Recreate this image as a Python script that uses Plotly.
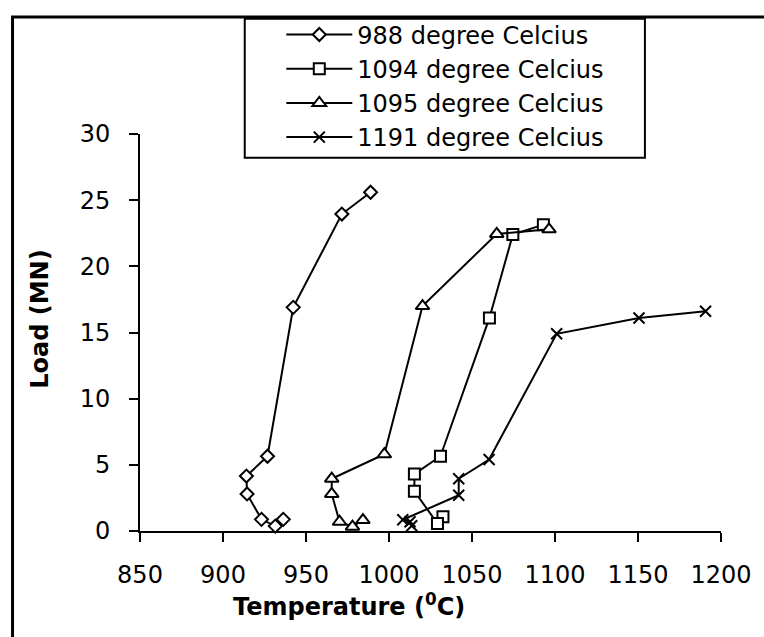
import plotly.graph_objects as go

# ---- data ----
names = ["988 degree Celcius", "1094 degree Celcius", "1095 degree Celcius", "1191 degree Celcius"]

t988 = [936.3, 931.5, 923.2, 914.5, 914.1, 926.8, 942.3, 971.6, 988.9]
l988 = [0.88, 0.37, 0.88, 2.8, 4.15, 5.65, 16.9, 23.95, 25.6]

t1094 = [1032.5, 1029.2, 1015.3, 1015.3, 1031.0, 1060.5, 1074.6, 1093.0]
l1094 = [1.07, 0.57, 3.0, 4.3, 5.65, 16.1, 22.4, 23.15]

t1095 = [984.3, 978.0, 970.2, 965.5, 965.5, 997.2, 1020.2, 1064.9, 1096.4]
l1095 = [0.83, 0.33, 0.7, 2.8, 3.95, 5.8, 17.0, 22.45, 22.8]

t1191 = [1013.7, 1012.7, 1008.3, 1042.0, 1042.0, 1060.3, 1101.0, 1150.6, 1190.7]
l1191 = [0.4, 0.7, 0.85, 2.7, 3.95, 5.4, 14.9, 16.1, 16.6]

x_ticks = [850, 900, 950, 1000, 1050, 1100, 1150, 1200]
y_ticks = [0, 5, 10, 15, 20, 25, 30]

# ---- layout geometry (pixels) ----
W, H = 764, 637
L, R, T, B = 140, 36, 131, 106
PW, PH = W - L - R, H - T - B

def px(xp):
    return (xp - L) / PW

def py(yp):
    return (H - B - yp) / PH

FONT = "DejaVu Sans, Arial, sans-serif"

fig = go.Figure()
series = [
    (t988, l988, "diamond", 10),
    (t1094, l1094, "square", 11),
    (t1095, l1095, "triangle-up", 12),
    (t1191, l1191, "x-thin", 11),
]
for (xs, ys, sym, sz), nm in zip(series, names):
    if sym == "x-thin":
        marker = dict(symbol=sym, size=sz, color="black", line=dict(color="black", width=2))
    else:
        marker = dict(symbol=sym, size=sz, color="white", line=dict(color="black", width=2))
    fig.add_trace(go.Scatter(
        x=xs, y=ys, name=nm, mode="lines+markers",
        line=dict(color="black", width=2), marker=marker, cliponaxis=False,
    ))

axis_common = dict(
    showline=True, linecolor="black", linewidth=2,
    ticks="outside", ticklen=9, tickwidth=2, tickcolor="black",
    showgrid=False, zeroline=False,
    tickfont=dict(family=FONT, size=24, color="black"),
)

fig.update_layout(
    width=W, height=H, autosize=False,
    margin=dict(l=L, r=R, t=T, b=B, pad=0),
    paper_bgcolor="white", plot_bgcolor="white",
    xaxis=dict(range=[850, 1200], tickvals=x_ticks, ticklabelstandoff=12, **axis_common),
    yaxis=dict(range=[0, 30], tickvals=y_ticks, ticklabelstandoff=14, **axis_common),
    showlegend=True,
    legend=dict(
        x=px(283), y=py(8.5), xanchor="left", yanchor="top",
        bgcolor="rgba(0,0,0,0)", borderwidth=0,
        font=dict(family=FONT, size=24, color="black"),
        itemwidth=66, tracegroupgap=0,
    ),
    shapes=[
        # outer border of chart
        dict(type="rect", xref="paper", yref="paper",
             x0=px(11), x1=px(775), y0=py(650), y1=py(13),
             line=dict(color="black", width=3), fillcolor="rgba(0,0,0,0)", layer="below"),
        # legend box
        dict(type="rect", xref="paper", yref="paper",
             x0=px(246), x1=px(651), y0=py(155), y1=py(15),
             line=dict(color="black", width=2), fillcolor="white", layer="below"),
    ],
    annotations=[
        dict(text="<b>Load (MN)</b>", xref="paper", yref="paper",
             x=px(38), y=py(318), showarrow=False, textangle=-90,
             font=dict(family=FONT, size=24, color="black"),
             xanchor="center", yanchor="middle"),
        dict(text="<b>Temperature (<sup>0</sup>C)</b>", xref="paper", yref="paper",
             x=px(352), y=py(606), showarrow=False,
             font=dict(family=FONT, size=24, color="black"),
             xanchor="center", yanchor="middle"),
    ],
)

fig.write_html("out.html")
